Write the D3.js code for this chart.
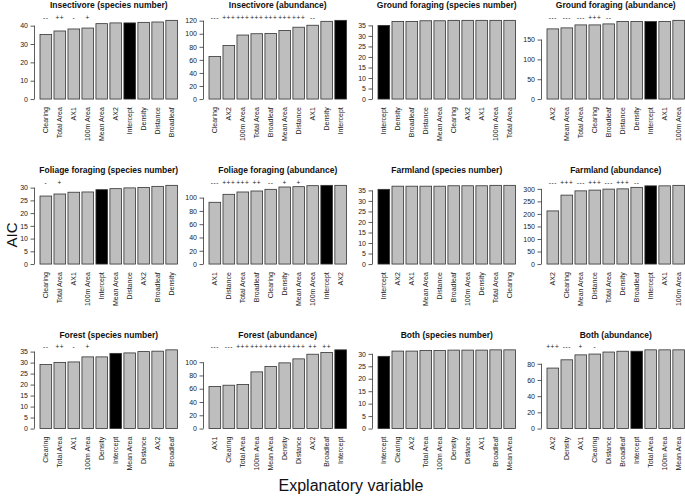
<!DOCTYPE html>
<html><head><meta charset="utf-8">
<script src="https://cdn.jsdelivr.net/npm/d3@7"></script>
<style>body{margin:0;background:#fff} svg{display:block;font-family:"Liberation Sans",Arial,Helvetica,sans-serif}</style>
</head><body><svg id="c" width="685" height="501"></svg>
<script>
const panelTitles = [
  "Insectivore (species number)", "Insectivore (abundance)", "Ground foraging (species number)", "Ground foraging (abundance)",
  "Foliage foraging (species number)", "Foliage foraging (abundance)", "Farmland (species number)", "Farmland (abundance)",
  "Forest (species number)", "Forest (abundance)", "Both (species number)", "Both (abundance)"
];
const panelVariables = [
  ["Clearing","Total Area","AX1","100m Area","Mean Area","AX2","Intercept","Density","Distance","Broadleaf"],
  ["Clearing","AX2","100m Area","Total Area","Broadleaf","Mean Area","Distance","AX1","Density","Intercept"],
  ["Intercept","Density","Broadleaf","Distance","Mean Area","Clearing","AX2","AX1","100m Area","Total Area"],
  ["AX2","Mean Area","Total Area","Clearing","Broadleaf","Distance","Density","Intercept","AX1","100m Area"],
  ["Clearing","Total Area","AX1","100m Area","Intercept","Mean Area","Distance","AX2","Broadleaf","Density"],
  ["AX1","Distance","Total Area","Broadleaf","Clearing","Density","Mean Area","100m Area","Intercept","AX2"],
  ["Intercept","AX2","AX1","Mean Area","Distance","Broadleaf","100m Area","Density","Total Area","Clearing"],
  ["AX2","Clearing","Mean Area","Distance","Total Area","Density","Broadleaf","Intercept","AX1","100m Area"],
  ["Clearing","Total Area","AX1","100m Area","Density","Intercept","Mean Area","Distance","AX2","Broadleaf"],
  ["AX1","Clearing","Total Area","100m Area","Mean Area","Density","Distance","AX2","Broadleaf","Intercept"],
  ["Intercept","Clearing","AX2","Total Area","100m Area","Density","Distance","AX1","Broadleaf","Mean Area"],
  ["AX2","Density","AX1","Clearing","Distance","Broadleaf","Intercept","Total Area","100m Area","Mean Area"]
];
const panelAIC = [
  [35.2, 37.1, 38.2, 38.7, 41.1, 41.5, 41.5, 41.8, 42.0, 42.9],
  [65, 82, 98, 100, 100.5, 105, 110, 113, 119, 120.5],
  [35.0, 36.9, 36.9, 37.2, 37.2, 37.4, 37.4, 37.4, 37.4, 37.4],
  [177, 179.5, 187, 187, 189.5, 195.5, 195.5, 195.5, 195.5, 198.5],
  [26.7, 27.5, 28.2, 28.3, 29.2, 29.6, 29.9, 30.1, 30.5, 30.9],
  [93, 105, 108.5, 110, 112.5, 116, 116.5, 118, 118.5, 118.5],
  [35.5, 37.0, 37.0, 37.0, 37.0, 37.2, 37.2, 37.2, 37.4, 37.4],
  [212, 275, 292, 295, 299, 300, 306, 312, 312, 314],
  [29.1, 30.1, 30.3, 32.6, 32.6, 34.2, 34.4, 35.0, 35.2, 35.8],
  [63.5, 65.3, 66.3, 85.4, 93.5, 99, 105, 112, 114.6, 118.6],
  [29.0, 31.1, 31.1, 31.3, 31.3, 31.5, 31.5, 31.5, 31.6, 31.6],
  [74.7, 84.9, 91, 92, 94.5, 95.5, 95.5, 97.2, 97.2, 97.2]
];
const panelSigns = [
  ["--","++","-","+","","","","","",""],
  ["---","+++","+++","+++","+++","+++","+++","--","",""],
  ["","","","","","","","","",""],
  ["---","---","---","+++","--","","","","",""],
  ["-","+","","","","","","","",""],
  ["---","+++","+++","++","--","+","+","","",""],
  ["","","","","","","","","",""],
  ["---","+++","---","+++","---","+++","--","","",""],
  ["--","++","-","+","","","","","",""],
  ["---","---","+++","+++","+++","+++","+++","++","++",""],
  ["","","","","","","","","",""],
  ["+++","---","+","-","","","","","",""]
];
const panelTicks = [
  [0,10,20,30,40],
  [0,20,40,60,80,100,120],
  [0,5,10,15,20,25,30,35],
  [0,50,100,150],
  [0,5,10,15,20,25,30],
  [0,20,40,60,80,100],
  [0,5,10,15,20,25,30,35],
  [0,50,100,150,200,250,300],
  [0,5,10,15,20,25,30,35],
  [0,20,40,60,80,100],
  [0,5,10,15,20,25,30],
  [0,20,40,60,80]
];
const yAxisTitle = "AIC";
const xAxisTitle = "Explanatory variable";

const svg = d3.select("#c");
const colX0 = [40, 209, 378, 547];
const bandW = 137.5;
const rowTop = [17.2, 182.2, 346.7];
const plotH = 85;

panelTitles.forEach((title, i) => {
  const r = Math.floor(i / 4), c = i % 4;
  const vars = panelVariables[i], vals = panelAIC[i];
  const x = d3.scaleBand().domain(vars).range([colX0[c], colX0[c] + bandW])
    .paddingInner(0.2 / 1.2).paddingOuter(0);
  const maxV = d3.max(vals);
  const y = d3.scaleLinear().domain([-0.04 * maxV, 1.04 * maxV]).range([rowTop[r] + plotH, rowTop[r]]);
  const g = svg.append("g");

  g.selectAll("rect.bar").data(vars).join("rect").attr("class", "bar")
    .attr("x", d => x(d)).attr("width", x.bandwidth())
    .attr("y", (d, j) => y(vals[j])).attr("height", (d, j) => y(0) - y(vals[j]))
    .attr("fill", d => d === "Intercept" ? "#000" : "#bebebe")
    .attr("stroke", "#333").attr("stroke-width", 0.8);

  // y axis (R style: line spans first..last tick)
  const axisX = colX0[c] - 0.472 * x.step() / 1.2;
  const ticks = panelTicks[i];
  const ag = g.append("g").attr("transform", `translate(${axisX},0)`);
  ag.call(d3.axisLeft(y).tickValues(ticks).tickSize(4).tickPadding(2.5).tickSizeOuter(0));
  ag.select(".domain").remove();
  ag.append("line").attr("x1", 0).attr("x2", 0)
    .attr("y1", y(ticks[0])).attr("y2", y(ticks[ticks.length - 1]))
    .attr("stroke", "#333").attr("stroke-width", 0.8);
  ag.selectAll(".tick line").attr("stroke", "#333").attr("stroke-width", 0.8);
  ag.selectAll(".tick text").attr("font-size", 7).attr("fill", "#222")
    .attr("font-family", '"Liberation Sans",Arial,sans-serif');

  // x labels
  g.selectAll("text.xl").data(vars).join("text").attr("class", "xl")
    .attr("transform", d => `translate(${x(d) + x.bandwidth() / 2},${rowTop[r] + plotH + 5}) rotate(-90)`)
    .attr("text-anchor", "end").attr("dy", "0.35em")
    .attr("font-size", 7).attr("fill", "#222").text(d => d);

  // signs
  g.selectAll("text.sg").data(vars).join("text").attr("class", "sg")
    .attr("x", d => x(d) + x.bandwidth() / 2).attr("y", rowTop[r] + 2.5)
    .attr("text-anchor", "middle").attr("font-size", 6.5).attr("fill", "#222")
    .attr("letter-spacing", 0.6)
    .text((d, j) => panelSigns[i][j]);

  // title
  g.append("text").attr("x", colX0[c] + bandW / 2).attr("y", rowTop[r] - 9)
    .attr("text-anchor", "middle").attr("font-size", 8.5).attr("font-weight", "bold")
    .attr("fill", "#111").text(title);
});

svg.append("text").attr("transform", "translate(16.5,235) rotate(-90)")
  .attr("text-anchor", "middle").attr("font-size", 15).attr("fill", "#111").text(yAxisTitle);
svg.append("text").attr("x", 351).attr("y", 491)
  .attr("text-anchor", "middle").attr("font-size", 16).attr("fill", "#111").text(xAxisTitle);
</script>
</body></html>
